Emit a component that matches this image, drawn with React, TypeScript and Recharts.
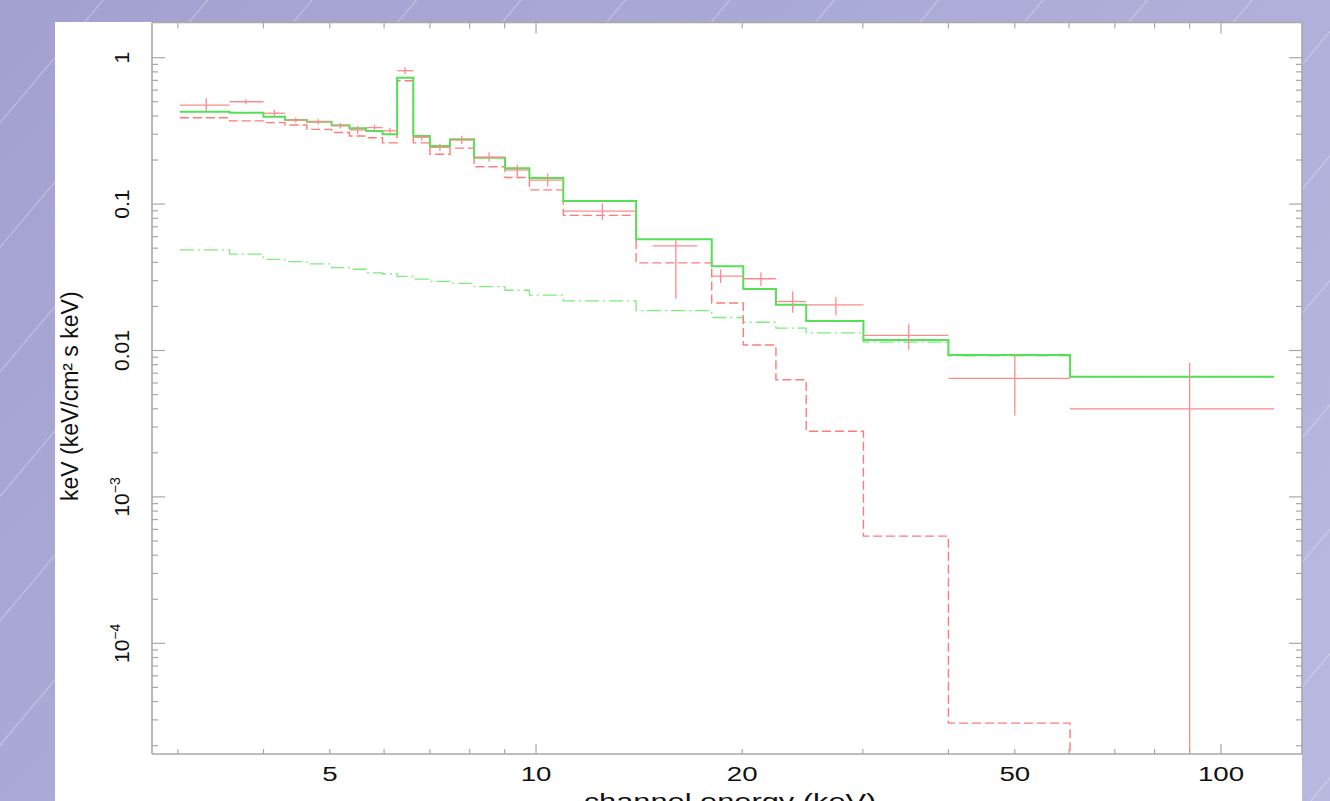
import React from 'react';
import { ComposedChart, Line, Scatter, XAxis, YAxis, ErrorBar } from 'recharts';

// ---------- data ----------
const binEdges = [3.02, 3.57, 4.0, 4.3, 4.63, 5.03, 5.34, 5.65, 5.97, 6.27, 6.62, 7.0, 7.49, 8.12, 9.01, 9.78, 10.96, 14.0, 18.05, 20.07, 22.4, 24.8, 30.06, 40.0, 60.2, 119.5];
const totalModel = [0.428, 0.421, 0.395, 0.375, 0.365, 0.345, 0.329, 0.316, 0.300, 0.730, 0.292, 0.249, 0.277, 0.207, 0.176, 0.151, 0.105, 0.0575, 0.0376, 0.0263, 0.0205, 0.0159, 0.0118, 0.00933, 0.00663];
const lineComponent = [0.389, 0.370, 0.360, 0.347, 0.324, 0.308, 0.292, 0.284, 0.262, 0.696, 0.262, 0.219, 0.241, 0.180, 0.152, 0.125, 0.0838, 0.0397, 0.0211, 0.0109, 0.00631, 0.00281, 0.00054, 0.0000285, 0.0000001];
const continuumComponent = [0.0486, 0.0455, 0.0419, 0.0405, 0.0390, 0.0368, 0.0359, 0.0339, 0.0333, 0.0321, 0.0307, 0.0297, 0.0287, 0.0273, 0.0258, 0.0239, 0.0218, 0.0187, 0.0168, 0.0156, 0.0142, 0.0132, 0.0114, 0.0092, 0.0066];

const pointEnergy = [3.30, 3.77, 4.15, 4.46, 4.81, 5.18, 5.49, 5.81, 6.12, 6.44, 6.81, 7.24, 7.79, 8.54, 9.39, 10.4, 12.5, 16.0, 18.6, 21.3, 23.7, 27.4, 35.0, 50.0, 90.0];
const pointEnergyLow = [3.02, 3.57, 4.0, 4.3, 4.63, 5.03, 5.34, 5.65, 5.97, 6.27, 6.62, 7.0, 7.49, 8.12, 9.01, 9.78, 10.96, 14.8, 18.05, 20.07, 22.4, 24.8, 30.06, 40.0, 60.2];
const pointEnergyHigh = [3.57, 4.0, 4.3, 4.63, 5.03, 5.34, 5.65, 5.97, 6.27, 6.62, 7.0, 7.49, 8.12, 9.01, 9.78, 10.96, 14.0, 17.2, 20.07, 22.4, 24.8, 30.06, 40.0, 60.2, 119.5];
const pointFlux = [0.474, 0.500, 0.417, 0.375, 0.365, 0.343, 0.321, 0.333, 0.317, 0.815, 0.286, 0.244, 0.274, 0.209, 0.171, 0.146, 0.0895, 0.0518, 0.0322, 0.0309, 0.0216, 0.0205, 0.0127, 0.00645, 0.00399];
const pointFluxLow = [0.433, 0.480, 0.396, 0.360, 0.350, 0.328, 0.300, 0.318, 0.302, 0.774, 0.272, 0.230, 0.257, 0.195, 0.150, 0.132, 0.0776, 0.0227, 0.0289, 0.0276, 0.0181, 0.0174, 0.0101, 0.0036, 0.000018];
const pointFluxHigh = [0.528, 0.520, 0.440, 0.390, 0.380, 0.358, 0.342, 0.348, 0.332, 0.860, 0.300, 0.258, 0.293, 0.226, 0.185, 0.162, 0.101, 0.0569, 0.0358, 0.0342, 0.0253, 0.0232, 0.0151, 0.0093, 0.0082];

const xTickValues = [3, 4, 5, 6, 7, 8, 9, 10, 20, 30, 40, 50, 60, 70, 80, 90, 100];
const xTickLabels = ['5', '10', '20', '50', '100'];
const xMajorTicks = [10, 100];
const yDecades = [1e-5, 1e-4, 1e-3, 0.01, 0.1, 1];
const yMantissas = [1, 2, 3, 4, 5, 6, 7, 8, 9];
const yTickLabels = [
  { value: 1, text: '1', sup: '' },
  { value: 0.1, text: '0.1', sup: '' },
  { value: 0.01, text: '0.01', sup: '' },
  { value: 1e-3, text: '10', sup: '\u22123' },
  { value: 1e-4, text: '10', sup: '\u22124' },
];
const xTitle = 'channel energy (keV)';
const yTitle = 'keV (keV/cm\u00B2 s keV)';

const X_DOMAIN: [number, number] = [2.75, 131.3];
const Y_DOMAIN: [number, number] = [1.754e-5, 1.739];

// ---------- tables for the library ----------
const stepSeries = (values: number[]) =>
  binEdges.map((e, i) => ({ x: e, y: values[Math.min(i, values.length - 1)] }));
const totalData = stepSeries(totalModel);
const lineData = stepSeries(lineComponent);
const contData = stepSeries(continuumComponent);
const pointTable = pointEnergy.map((x, i) => ({
  x,
  y: pointFlux[i],
  xErr: [x - pointEnergyLow[i], pointEnergyHigh[i] - x],
  yErr: [pointFlux[i] - pointFluxLow[i], pointFluxHigh[i] - pointFlux[i]],
}));
const yTickValues = yDecades
  .flatMap((d) => yMantissas.map((m) => Number((m * d).toPrecision(3))))
  .filter((v) => v >= Y_DOMAIN[0] && v <= Y_DOMAIN[1]);

// ---------- styles ----------
const AXIS = '#a8a8a8';
const FONT = '"Liberation Sans", Arial, Helvetica, sans-serif';
const RED = '#ff7b7b';
const GREEN = '#55e055';

const same = (a: number, b: number) => Math.abs(Math.log10(a / b)) < 1e-6;
const isDecade = (v: number) => Math.abs(Math.log10(v) - Math.round(Math.log10(v))) < 1e-6;

function BottomTick(props: any) {
  const { x, y, payload } = props;
  const v = payload.value;
  const major = xMajorTicks.some((m) => same(m, v));
  const label = xTickLabels.find((t) => same(Number(t), v));
  return (
    <g>
      <line x1={x} y1={y} x2={x} y2={y - (major ? 10 : 5)} stroke={AXIS} strokeWidth={1.2} />
      {label && (
        <text transform={`translate(${x},${y + 26.5}) scale(1.35,1)`} textAnchor="middle" fontSize={20.5} fontFamily={FONT} fill="#111">
          {label}
        </text>
      )}
    </g>
  );
}

function TopTick(props: any) {
  const { x, y, payload } = props;
  const major = xMajorTicks.some((m) => same(m, payload.value));
  return <line x1={x} y1={y} x2={x} y2={y + (major ? 11 : 6)} stroke={AXIS} strokeWidth={1.2} />;
}

function LeftTick(props: any) {
  const { x, y, payload } = props;
  const v = payload.value;
  const major = isDecade(v);
  const label = yTickLabels.find((t) => same(t.value, v));
  return (
    <g>
      <line x1={x} y1={y} x2={x + (major ? 13 : 6)} y2={y} stroke={AXIS} strokeWidth={1.2} />
      {label && (
        <text transform={`translate(${x - 23},${y}) rotate(-90)`} textAnchor="middle" fontSize={21} fontFamily={FONT} fill="#111">
          {label.text}
          {label.sup && (
            <tspan fontSize={14} dy={-9}>
              {label.sup}
            </tspan>
          )}
        </text>
      )}
    </g>
  );
}

function RightTick(props: any) {
  const { x, y, payload } = props;
  const major = isDecade(payload.value);
  return <line x1={x} y1={y} x2={x - (major ? 13 : 6)} y2={y} stroke={AXIS} strokeWidth={1.2} />;
}

function YTitle(props: any) {
  const vb = props.viewBox || { x: 52, y: 22.5, width: 100, height: 731.5 };
  const cx = vb.x + 26;
  const cy = vb.y + vb.height / 2 + 8;
  return (
    <text transform={`translate(${cx},${cy}) rotate(-90)`} textAnchor="middle" fontSize={23} fontFamily={FONT} fill="#111">
      {yTitle}
    </text>
  );
}

function XTitle(props: any) {
  const vb = props.viewBox || { x: 152, y: 754, width: 1150, height: 47 };
  const cx = vb.x + vb.width / 2 + 3;
  const cy = vb.y + 55;
  return (
    <text transform={`translate(${cx},${cy}) scale(1.4,1)`} textAnchor="middle" fontSize={22} fontFamily={FONT} fill="#111">
      {xTitle}
    </text>
  );
}

const NoShape = () => <g />;

export default function App() {
  return (
    <div
      style={{
        position: 'fixed',
        left: 0,
        top: 0,
        width: 1330,
        height: 801,
        overflow: 'hidden',
        background:
          'repeating-linear-gradient(130deg, rgba(255,255,255,0) 0px, rgba(255,255,255,0) 78px, rgba(255,255,255,0.35) 79px, rgba(255,255,255,0) 80px), linear-gradient(135deg, #a2a1d0 0%, #aeaed9 55%, #b9b9e0 100%)',
      }}
    >
      <div style={{ position: 'absolute', left: 55, top: 21.5, width: 1247, height: 790, background: '#ffffff' }} />
      <div style={{ position: 'absolute', left: 0, top: 0 }}>
        <ComposedChart width={1330} height={801} margin={{ top: 21.5, right: 27, bottom: 0, left: 52 }}>
          <XAxis
            xAxisId="b"
            type="number"
            dataKey="x"
            scale="log"
            domain={X_DOMAIN}
            allowDataOverflow
            ticks={xTickValues}
            interval={0}
            tickSize={0}
            tickMargin={0}
            tickLine={false}
            tick={<BottomTick />}
            axisLine={{ stroke: AXIS, strokeWidth: 1.6 }}
            height={47}
            label={<XTitle />}
          />
          <XAxis
            xAxisId="t"
            orientation="top"
            type="number"
            dataKey="x"
            scale="log"
            domain={X_DOMAIN}
            allowDataOverflow
            ticks={xTickValues}
            interval={0}
            tickSize={0}
            tickMargin={0}
            tickLine={false}
            tick={<TopTick />}
            axisLine={{ stroke: AXIS, strokeWidth: 1.6 }}
            height={1}
          />
          <YAxis
            yAxisId="l"
            type="number"
            dataKey="y"
            scale="log"
            domain={Y_DOMAIN}
            allowDataOverflow
            ticks={yTickValues}
            interval={0}
            tickSize={0}
            tickMargin={0}
            tickLine={false}
            tick={<LeftTick />}
            axisLine={{ stroke: AXIS, strokeWidth: 1.6 }}
            width={100}
            label={<YTitle />}
          />
          <YAxis
            yAxisId="r"
            orientation="right"
            type="number"
            dataKey="y"
            scale="log"
            domain={Y_DOMAIN}
            allowDataOverflow
            ticks={yTickValues}
            interval={0}
            tickSize={0}
            tickMargin={0}
            tickLine={false}
            tick={<RightTick />}
            axisLine={{ stroke: AXIS, strokeWidth: 1.6 }}
            width={1}
          />
          <Line
            xAxisId="b"
            yAxisId="l"
            data={contData}
            dataKey="y"
            type="stepAfter"
            stroke="#7eec7e"
            strokeWidth={1.3}
            strokeDasharray="14 4 2 4"
            dot={false}
            activeDot={false}
            isAnimationActive={false}
          />
          <Line
            xAxisId="b"
            yAxisId="l"
            data={lineData}
            dataKey="y"
            type="stepAfter"
            stroke={RED}
            strokeWidth={1.4}
            strokeDasharray="9 4"
            dot={false}
            activeDot={false}
            isAnimationActive={false}
          />
          <Line
            xAxisId="b"
            yAxisId="l"
            data={totalData}
            dataKey="y"
            type="stepAfter"
            stroke={GREEN}
            strokeWidth={2}
            dot={false}
            activeDot={false}
            isAnimationActive={false}
          />
          <Scatter xAxisId="b" yAxisId="l" data={pointTable} dataKey="y" shape={NoShape} isAnimationActive={false}>
            <ErrorBar dataKey="xErr" direction="x" width={0} stroke="#ff8a8a" strokeWidth={1.3} />
            <ErrorBar dataKey="yErr" direction="y" width={0} stroke="#ff8a8a" strokeWidth={1.3} />
          </Scatter>
        </ComposedChart>
      </div>
    </div>
  );
}
